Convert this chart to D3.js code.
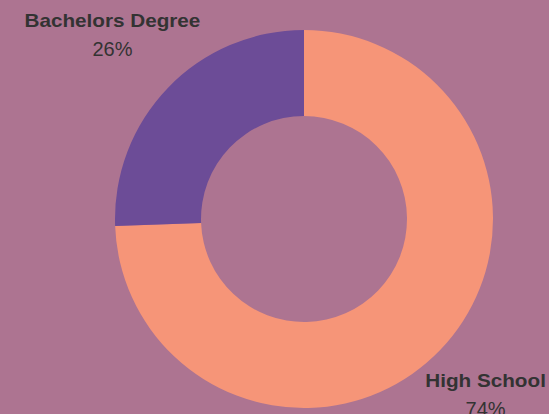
<!DOCTYPE html>
<html>
<head>
<meta charset="utf-8">
<script src="https://cdn.jsdelivr.net/npm/d3@7"></script>
<style>
  html, body { margin: 0; padding: 0; background: #ad7491; }
  svg { display: block; }
</style>
</head>
<body>
<svg id="chart"></svg>
<script>
// data
const categories = ['High School', 'Bachelors Degree'];
const values = [74.4, 25.6];
const colors = ['#f69578', '#6c4c97'];

const width = 549, height = 414;
const cx = 304, cy = 219;
const outerR = 189, innerR = 103;

const svg = d3.select('#chart')
    .attr('width', width)
    .attr('height', height);

const g = svg.append('g')
    .attr('transform', `translate(${cx}, ${cy})`);

const data = categories.map((c, i) => ({ label: c, value: values[i], color: colors[i] }));

const pie = d3.pie()
    .sort(null)
    .value(d => d.value);

const arc = d3.arc()
    .innerRadius(innerR)
    .outerRadius(outerR);

// labels sit on a wider ring, slightly up-left of the donut centre
const labelArc = d3.arc()
    .innerRadius(259)
    .outerRadius(259);

const arcs = pie(data);

g.selectAll('path')
    .data(arcs)
    .join('path')
    .attr('d', arc)
    .attr('fill', d => d.data.color);

const total = d3.sum(values);

const labelLayer = svg.append('g')
    .attr('transform', `translate(${cx - 5}, ${cy - 5})`);

const labels = labelLayer.selectAll('g.label')
    .data(arcs)
    .join('g')
    .attr('class', 'label')
    .attr('transform', d => {
        const [x, y] = labelArc.centroid(d);
        return `translate(${x}, ${y})`;
    });

labels.append('text')
    .attr('text-anchor', 'middle')
    .attr('y', -7)
    .attr('fill', '#333')
    .attr('font-family', 'Liberation Sans, Arial, sans-serif')
    .attr('font-weight', 'bold')
    .attr('font-size', '18px')
    .attr('transform', 'scale(1.15, 1)')
    .text(d => d.data.label);

labels.append('text')
    .attr('text-anchor', 'middle')
    .attr('y', 22)
    .attr('fill', '#333')
    .attr('font-family', 'Liberation Sans, Arial, sans-serif')
    .attr('font-size', '20px')
    .text(d => Math.round(d.data.value / total * 100) + '%');
</script>
</body>
</html>
